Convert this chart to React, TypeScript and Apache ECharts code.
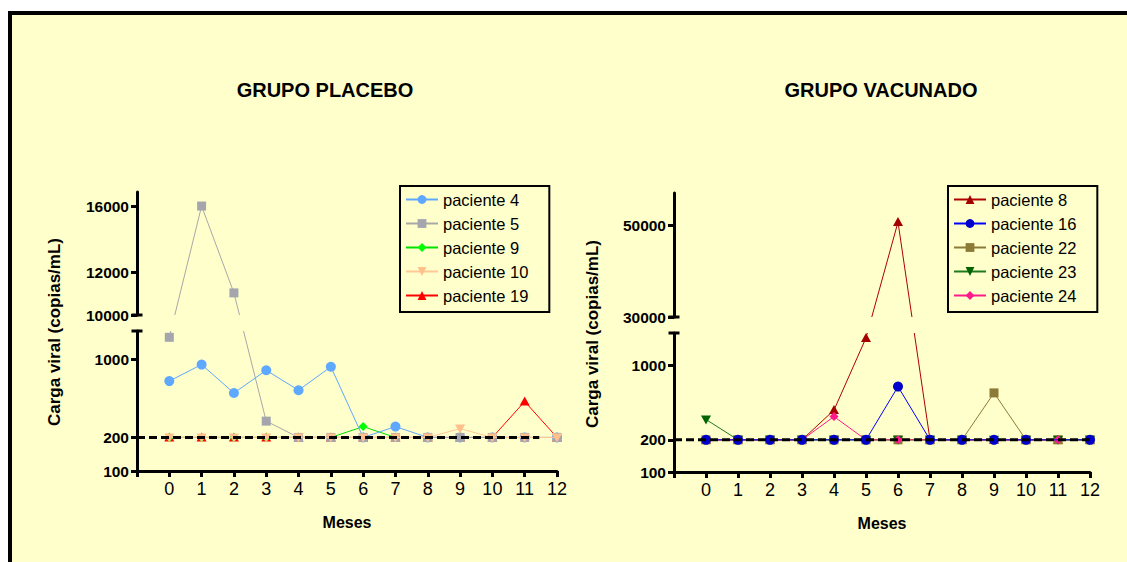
import React, { useEffect, useRef } from "react";
import * as echarts from "echarts";

// ---------- data ----------
const MONTHS = [0, 1, 2, 3, 4, 5, 6, 7, 8, 9, 10, 11, 12];
const MONTH_RANGE = [-1, 12];

const PLACEBO_NAMES = ["paciente 4", "paciente 5", "paciente 9", "paciente 10", "paciente 19"];
const PACIENTE_4 = [640, 900, 500, 800, 530, 860, 200, 250, 200, 200, 200, 200, 200];
const PACIENTE_5 = [1580, 16000, 11000, 280, 200, 200, 200, 200, 200, 200, 200, 200, 200];
const PACIENTE_9 = [200, 200, 200, 200, 200, 200, 250, 200];
const PACIENTE_10 = [200, 200, 200, 200, 200, 200, 200, 200, 200, 240, 200, 200, 200];
const PACIENTE_19 = [200, 200, 200, 200, 200, 200, 200, 200, 200, 200, 200, 420, 200];

const VACUNADO_NAMES = ["paciente 8", "paciente 16", "paciente 22", "paciente 23", "paciente 24"];
const PACIENTE_8 = [200, 200, 200, 200, 380, 1800, 51000, 200, 200, 200, 200, 200, 200];
const PACIENTE_16 = [200, 200, 200, 200, 200, 200, 630, 200, 200, 200, 200, null, 200];
const PACIENTE_22 = [200, 200, 200, 200, 200, 200, 200, 200, 200, 550, 200, 200, 200];
const PACIENTE_23 = [310, 200, 200, 200, 200, 200, 200, 200, 200, 200, 200, 200, 200];
const PACIENTE_24 = [200, 200, 200, 200, 330, 200, 200, 200, 200, 200, 200, 200];

const LIMIT_VALUE = 200;
const PLACEBO_LIMIT_SPAN = [-1, 11.45];
const VACUNADO_LIMIT_SPAN = [-1, 12];

const PLACEBO_LOW_RANGE = [100, 1800];
const PLACEBO_HIGH_RANGE = [10000, 17000];
const VACUNADO_LOW_RANGE = [100, 2000];
const VACUNADO_HIGH_RANGE = [30000, 60000];
const PLACEBO_LOW_TICKS = [100, 200, 1000];
const PLACEBO_HIGH_TICKS = [10000, 12000, 16000];
const VACUNADO_LOW_TICKS = [100, 200, 1000];
const VACUNADO_HIGH_TICKS = [30000, 50000];

const TITLES = ["GRUPO PLACEBO", "GRUPO VACUNADO"];
const Y_NAME = "Carga viral (copias/mL)";
const X_NAME = "Meses";

// ---------- styles ----------
const FONT = '"Liberation Sans", Arial, sans-serif';
type Shape = "circle" | "rect" | "triangle" | "triangleDown" | "diamond";
interface Def { name: string; values: (number | null)[]; color: string; line: string; shape: Shape; size: number }

const PLACEBO: Def[] = [
  { name: PLACEBO_NAMES[0], values: PACIENTE_4, color: "#5FA8FF", line: "#5FA8FF", shape: "circle", size: 10 },
  { name: PLACEBO_NAMES[1], values: PACIENTE_5, color: "#A5A5AD", line: "#A8A8A8", shape: "rect", size: 9 },
  { name: PLACEBO_NAMES[2], values: PACIENTE_9, color: "#00FF00", line: "#00E000", shape: "diamond", size: 9 },
  { name: PLACEBO_NAMES[3], values: PACIENTE_10, color: "#FFC08C", line: "#FFC896", shape: "triangleDown", size: 10 },
  { name: PLACEBO_NAMES[4], values: PACIENTE_19, color: "#FF0000", line: "#FF0000", shape: "triangle", size: 10 },
];
const PLACEBO_DRAW_ORDER = [4, 2, 0, 1, 3];

const VACUNADO: Def[] = [
  { name: VACUNADO_NAMES[0], values: PACIENTE_8, color: "#A50000", line: "#B00000", shape: "triangle", size: 10 },
  { name: VACUNADO_NAMES[1], values: PACIENTE_16, color: "#0000CD", line: "#0000FF", shape: "circle", size: 10 },
  { name: VACUNADO_NAMES[2], values: PACIENTE_22, color: "#8C7A37", line: "#8C7A37", shape: "rect", size: 9 },
  { name: VACUNADO_NAMES[3], values: PACIENTE_23, color: "#006400", line: "#1E7B1E", shape: "triangleDown", size: 10 },
  { name: VACUNADO_NAMES[4], values: PACIENTE_24, color: "#FF1A8C", line: "#FF1A8C", shape: "diamond", size: 9 },
];
const VACUNADO_DRAW_ORDER = [0, 2, 3, 4, 1];

const LEGEND_SYMBOL: Record<Shape, string> = {
  circle: "circle", rect: "rect", triangle: "triangle", triangleDown: "triangle", diamond: "diamond",
};

function clipY(a: number[], b: number[], lo: number, hi: number): number[][] | null {
  const dy = b[1] - a[1];
  if (dy === 0) return a[1] >= lo && a[1] <= hi ? [a, b] : null;
  let ta = (lo - a[1]) / dy;
  let tb = (hi - a[1]) / dy;
  if (ta > tb) { const t = ta; ta = tb; tb = t; }
  const t0 = Math.max(0, ta);
  const t1 = Math.min(1, tb);
  if (t0 >= t1) return null;
  const at = (t: number) => [a[0] + (b[0] - a[0]) * t, a[1] + dy * t];
  return [at(t0), at(t1)];
}

function marker(shape: Shape, cx: number, cy: number, s: number, color: string): any {
  const h = s / 2;
  const style = { fill: color };
  switch (shape) {
    case "circle":
      return { type: "circle", shape: { cx, cy, r: h }, style };
    case "rect":
      return { type: "rect", shape: { x: cx - h, y: cy - h, width: s, height: s }, style };
    case "triangle":
      return { type: "polygon", shape: { points: [[cx, cy - h], [cx + h, cy + h * 0.8], [cx - h, cy + h * 0.8]] }, style };
    case "triangleDown":
      return { type: "polygon", shape: { points: [[cx - h, cy - h * 0.8], [cx + h, cy - h * 0.8], [cx, cy + h]] }, style };
    default:
      return { type: "polygon", shape: { points: [[cx, cy - h], [cx + h, cy], [cx, cy + h], [cx - h, cy]] }, style };
  }
}

export default function App() {
  const ref = useRef<HTMLDivElement>(null);

  useEffect(() => {
    const chart = echarts.init(ref.current!, null, { renderer: "svg" });

    const panels = [
      { xB: 0, xT: 1, yB: 0, yT: 1, low: PLACEBO_LOW_RANGE, high: PLACEBO_HIGH_RANGE, defs: PLACEBO, order: PLACEBO_DRAW_ORDER, span: PLACEBO_LIMIT_SPAN },
      { xB: 2, xT: 3, yB: 2, yT: 3, low: VACUNADO_LOW_RANGE, high: VACUNADO_HIGH_RANGE, defs: VACUNADO, order: VACUNADO_DRAW_ORDER, span: VACUNADO_LIMIT_SPAN },
    ];

    const toPx = (pi: number, x: number, y: number): number[] => {
      const P = panels[pi];
      const top = y >= P.high[0];
      return chart.convertToPixel(
        { xAxisIndex: top ? P.xT : P.xB, yAxisIndex: top ? P.yT : P.yB } as any,
        [x, y]
      ) as number[];
    };

    const makeRenderer = (pi: number, pts: number[][], def: Def) => (params: any, api: any) => {
      const P = panels[pi];
      const i = params.dataIndex;
      const cur = toPx(pi, api.value(0), api.value(1));
      const gapTop = (chart.convertToPixel({ xAxisIndex: P.xB, yAxisIndex: P.yB } as any, [0, P.low[1]]) as number[])[1];
      const gapBottom = (chart.convertToPixel({ xAxisIndex: P.xT, yAxisIndex: P.yT } as any, [0, P.high[0]]) as number[])[1];
      const children: any[] = [];
      if (i + 1 < pts.length) {
        const nxt = toPx(pi, pts[i + 1][0], pts[i + 1][1]);
        [[gapTop, Infinity], [-Infinity, gapBottom]].forEach(([lo, hi]) => {
          const seg = clipY(cur, nxt, lo, hi);
          if (seg) {
            children.push({
              type: "line",
              shape: { x1: seg[0][0], y1: seg[0][1], x2: seg[1][0], y2: seg[1][1] },
              style: { stroke: def.line, lineWidth: 1 },
            });
          }
        });
      }
      children.push(marker(def.shape, cur[0], cur[1], def.size, def.color));
      return { type: "group", children };
    };

    const grids = [
      { left: 137, top: 331, width: 420, height: 140 },
      { left: 137, top: 192, width: 420, height: 123 },
      { left: 674, top: 333, width: 416, height: 139 },
      { left: 674, top: 193, width: 416, height: 124 },
    ];

    const xAxis = [0, 1, 2, 3].map((g) => {
      const show = g % 2 === 0;
      return {
        type: "value",
        gridIndex: g,
        position: "bottom",
        show,
        min: MONTH_RANGE[0],
        max: MONTH_RANGE[1],
        interval: 1,
        axisLine: { onZero: false, lineStyle: { color: "#000", width: 3 } },
        axisTick: { length: 6, lineStyle: { color: "#000", width: 3 } },
        axisLabel: {
          color: "#000", fontSize: 18, fontFamily: FONT, margin: 9,
          formatter: (v: number) => (v < MONTHS[0] ? "" : String(v)),
        },
        splitLine: { show: false },
        name: show ? X_NAME : "",
        nameLocation: "middle",
        nameGap: 43,
        nameTextStyle: { color: "#000", fontSize: 16, fontWeight: "bold", fontFamily: FONT },
      };
    });

    const ranges = [PLACEBO_LOW_RANGE, PLACEBO_HIGH_RANGE, VACUNADO_LOW_RANGE, VACUNADO_HIGH_RANGE];
    const ticks = [PLACEBO_LOW_TICKS, PLACEBO_HIGH_TICKS, VACUNADO_LOW_TICKS, VACUNADO_HIGH_TICKS];

    const logAxes = [0, 1, 2, 3].map((g) => ({
      type: "log",
      logBase: 10,
      gridIndex: g,
      position: "left",
      show: false,
      min: ranges[g][0],
      max: ranges[g][1],
      axisLine: { onZero: false },
      splitLine: { show: false },
    }));

    const tickAxes = [0, 1, 2, 3].map((g) => {
      const isTop = g % 2 === 1;
      const vals = ticks[g].map((t) => Math.log10(t));
      return {
        type: "value",
        gridIndex: g,
        position: "left",
        min: Math.log10(ranges[g][0]),
        max: Math.log10(ranges[g][1]),
        axisLine: {
          show: true, onZero: false,
          lineStyle: { color: "#000", width: 3 },
          symbol: isTop ? ["rect", "none"] : ["none", "rect"],
          symbolSize: [11, 3],
        },
        axisTick: { show: true, length: 6, lineStyle: { color: "#000", width: 3 }, customValues: vals },
        axisLabel: {
          customValues: vals,
          formatter: (v: number) => String(Math.round(Math.pow(10, v))),
          color: "#000", fontSize: 15.5, fontWeight: "bold", fontFamily: FONT, margin: 8,
        },
        splitLine: { show: false },
      };
    });

    const series: any[] = [];
    // legend proxies
    panels.forEach((P) => {
      P.defs.forEach((d) => {
        series.push({
          type: "line",
          name: d.name,
          xAxisIndex: P.xB,
          yAxisIndex: P.yB,
          data: [],
          symbol: LEGEND_SYMBOL[d.shape],
          symbolRotate: d.shape === "triangleDown" ? 180 : 0,
          itemStyle: { color: d.color },
          lineStyle: { color: d.line, width: 1.5 },
        });
      });
    });
    // data series
    panels.forEach((P, pi) => {
      P.order.forEach((k) => {
        const d = P.defs[k];
        const pts: number[][] = [];
        d.values.forEach((v, m) => { if (v != null) pts.push([MONTHS[m], v]); });
        series.push({
          type: "custom",
          name: d.name,
          coordinateSystem: "cartesian2d",
          xAxisIndex: P.xB,
          yAxisIndex: P.yB,
          data: pts,
          encode: { x: 0, y: 1 },
          z: 2,
          renderItem: makeRenderer(pi, pts, d),
        });
      });
      series.push({
        type: "line",
        name: "límite " + LIMIT_VALUE,
        xAxisIndex: P.xB,
        yAxisIndex: P.yB,
        data: P.span.map((x) => [x, LIMIT_VALUE]),
        symbol: "none",
        silent: true,
        z: 3,
        lineStyle: { color: "#000", width: 3, type: [8, 4] },
      });
    });

    const legendBase = {
      orient: "vertical",
      top: 186,
      itemWidth: 32,
      itemHeight: 11,
      itemGap: 7,
      padding: [5, 21, 8, 5],
      backgroundColor: "#FFFFCC",
      borderColor: "#000",
      borderWidth: 2,
      borderRadius: 0,
      selectedMode: false,
      textStyle: { fontSize: 16.5, color: "#000", fontFamily: FONT },
    };

    chart.setOption({
      animation: false,
      backgroundColor: "#FFFFFF",
      grid: grids,
      xAxis,
      yAxis: [...logAxes, ...tickAxes],
      legend: [
        { ...legendBase, left: 400, data: PLACEBO_NAMES },
        { ...legendBase, left: 948, data: VACUNADO_NAMES },
      ],
      graphic: [
        { type: "rect", z: -10, shape: { x: 8, y: 11, width: 1119, height: 551 }, style: { fill: "#000" } },
        { type: "rect", z: -9, shape: { x: 12, y: 15, width: 1115, height: 547 }, style: { fill: "#FFFFCC" } },
        { type: "text", x: 325, y: 90, style: { text: TITLES[0], align: "center", verticalAlign: "middle", font: `bold 20px ${FONT}`, fill: "#000" } },
        { type: "text", x: 881, y: 90, style: { text: TITLES[1], align: "center", verticalAlign: "middle", font: `bold 20px ${FONT}`, fill: "#000" } },
        { type: "text", x: 54, y: 332, rotation: Math.PI / 2, style: { text: Y_NAME, align: "center", verticalAlign: "middle", font: `bold 17px ${FONT}`, fill: "#000" } },
        { type: "text", x: 592, y: 334, rotation: Math.PI / 2, style: { text: Y_NAME, align: "center", verticalAlign: "middle", font: `bold 17px ${FONT}`, fill: "#000" } },
      ],
      series,
    });

    return () => chart.dispose();
  }, []);

  return (
    <div
      ref={ref}
      style={{ position: "absolute", left: 0, top: 0, width: 1127, height: 562 }}
    />
  );
}
